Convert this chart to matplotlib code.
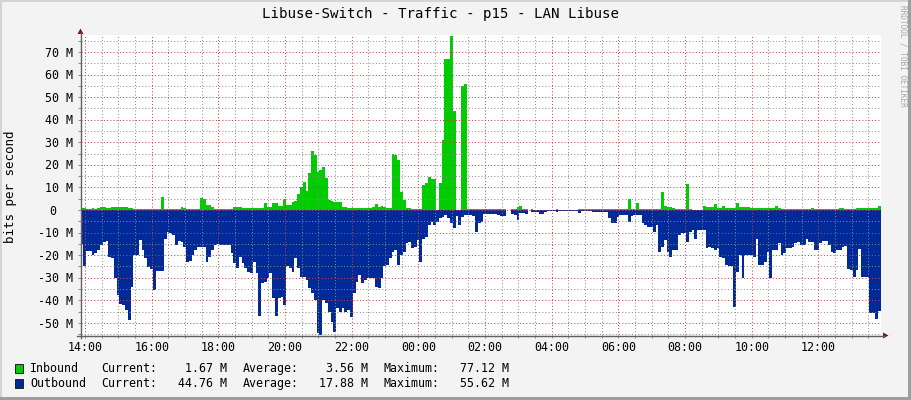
import numpy as np
import matplotlib
matplotlib.use("Agg")
import matplotlib.pyplot as plt
from matplotlib.patches import Rectangle, Polygon
from matplotlib.lines import Line2D
import matplotlib.transforms as mtransforms

# ---------------- data ----------------
title = "Libuse-Switch - Traffic - p15 - LAN Libuse"
ylabel = "bits per second"
watermark = "RRDTOOL / TOBI OETIKER"
hour_labels = ["14:00", "16:00", "18:00", "20:00", "22:00", "00:00",
               "02:00", "04:00", "06:00", "08:00", "10:00", "12:00"]
hour_offsets_min = [0, 120, 240, 360, 480, 600, 720, 840, 960, 1080, 1200, 1320]
start_min = -8      # first sample, minutes relative to 14:00
step_min = 5        # RRD step (5 minutes)
y_major = [-50, -40, -30, -20, -10, 0, 10, 20, 30, 40, 50, 60, 70]

# Inbound, Mbit/s, one value per 5-minute step
inbound = [
    0.7, 0.7, 0.6, 0.6, 0.7, 0.6, 0.7, 1.5, 1.4, 0.7,
    0.8, 1.2, 1.2, 1.3, 1.3, 1.2, 1.2, 0.8, 0.7, 0.6,
    0.5, 0.4, 0.4, 0.5, 0.4, 0.3, 0.4, 0.4, 0.5, 5.9,
    0.5, 0.5, 0.5, 0.5, 0.5, 0.5, 1.5, 0.8, 0.5, 0.5,
    0.5, 0.5, 0.5, 5.2, 5.0, 2.2, 2.0, 1.5, 0.4, 0.4,
    0.4, 0.4, 0.4, 0.4, 0.4, 1.3, 1.3, 1.3, 0.9, 0.9,
    0.9, 0.9, 0.9, 0.9, 1.0, 0.9, 3.2, 1.5, 1.5, 3.2,
    3.0, 1.8, 1.8, 4.7, 2.2, 2.2, 3.7, 4.0, 7.0, 10.3,
    12.3, 8.6, 16.2, 26.0, 24.4, 17.0, 17.7, 19.2, 14.0, 4.4,
    4.1, 3.7, 3.7, 3.4, 1.5, 1.5, 0.7, 0.7, 0.7, 0.7,
    0.7, 0.7, 0.7, 0.7, 0.7, 1.5, 2.7, 1.5, 1.9, 1.5,
    0.7, 0.7, 24.8, 24.4, 22.0, 8.1, 4.4, 0.7, 0.7, 0.3,
    0.3, 0.3, 0.3, 11.0, 12.0, 14.8, 13.6, 13.6, 0.0, 12.0,
    31.0, 67.0, 67.0, 77.12, 44.0, 0.0, 0.0, 55.0, 55.6, 0.3,
    0.3, 0.3, 0.3, 0.3, 0.3, 0.3, 0.3, 0.3, 0.3, 0.3,
    0.3, 0.3, 0.3, 0.0, 0.0, 0.3, 0.5, 1.5, 1.9, 0.3,
    0.3, 0.0, 0.2, 0.15, 0.15, 0.15, 0.15, 0.15, 0.15, 0.15,
    0.15, 0.3, 0.15, 0.15, 0.15, 0.15, 0.15, 0.15, 0.15, 0.2,
    0.2, 0.2, 0.2, 0.2, 0.2, 0.2, 0.2, 0.2, 0.2, 0.2,
    0.3, 0.3, 0.3, 0.3, 0.3, 0.3, 0.3, 4.9, 0.4, 0.4,
    3.2, 0.4, 0.3, 0.3, 0.3, 0.3, 0.3, 0.3, 0.6, 7.8,
    1.8, 1.2, 1.2, 0.7, 0.5, 0.5, 0.3, 0.3, 11.5, 0.4,
    0.1, 0.1, 0.1, 0.1, 1.8, 1.2, 1.2, 1.2, 2.5, 0.7,
    0.7, 1.8, 0.7, 0.7, 0.7, 0.7, 3.2, 1.5, 1.5, 1.5,
    1.5, 0.7, 0.7, 0.7, 0.7, 0.7, 0.7, 1.0, 0.7, 0.7,
    1.9, 0.7, 0.5, 0.5, 0.5, 0.5, 0.5, 0.5, 0.5, 0.5,
    0.5, 0.5, 0.5, 0.9, 0.4, 0.4, 0.4, 0.4, 0.4, 0.4,
    0.4, 0.4, 0.5, 0.9, 0.7, 0.4, 0.4, 0.4, 0.4, 0.7,
    0.7, 0.7, 0.7, 0.7, 0.7, 0.7, 0.7, 1.67,
]

# Outbound, Mbit/s (drawn below zero), one value per 5-minute step
outbound = [
    15.0, 25.0, 18.0, 18.0, 20.0, 19.0, 17.7, 15.5, 14.0, 13.6,
    20.7, 21.4, 30.0, 37.7, 41.7, 42.0, 44.3, 48.7, 34.0, 20.0,
    20.0, 13.3, 17.7, 21.4, 25.4, 26.0, 35.5, 27.0, 27.0, 27.0,
    13.0, 9.6, 10.0, 11.0, 15.5, 13.6, 14.0, 16.2, 22.9, 22.5,
    20.0, 17.7, 16.2, 16.2, 16.2, 22.9, 20.7, 17.7, 15.5, 15.0,
    15.5, 15.5, 15.5, 15.5, 19.0, 23.6, 25.8, 20.7, 23.6, 25.8,
    27.3, 28.0, 23.0, 28.0, 47.0, 32.5, 31.8, 30.3, 28.0, 39.0,
    47.0, 39.0, 38.4, 42.0, 25.0, 25.8, 27.3, 21.4, 25.8, 29.5,
    29.5, 31.0, 34.7, 37.0, 39.9, 54.7, 55.62, 40.0, 41.4, 45.0,
    49.5, 54.0, 43.6, 45.0, 43.6, 45.0, 44.3, 47.3, 37.0, 31.8,
    28.8, 32.5, 31.0, 30.3, 30.3, 30.3, 34.0, 34.7, 30.3, 25.0,
    24.4, 21.4, 18.5, 17.7, 24.4, 20.0, 18.5, 14.8, 14.0, 17.0,
    16.2, 13.3, 22.9, 12.9, 11.8, 6.6, 5.2, 6.6, 5.2, 3.7,
    3.2, 2.2, 3.7, 5.9, 8.1, 2.7, 6.6, 3.0, 2.2, 2.2,
    2.2, 2.7, 9.6, 5.9, 5.2, 1.8, 1.8, 1.8, 1.8, 1.8,
    2.2, 2.7, 2.7, 0.0, 0.0, 1.8, 2.2, 4.4, 1.2, 1.2,
    1.8, 0.0, 0.8, 0.7, 0.7, 1.8, 1.8, 0.7, 0.4, 0.4,
    0.4, 0.9, 0.4, 0.4, 0.4, 0.4, 0.4, 0.4, 0.4, 1.5,
    0.4, 0.4, 0.4, 0.4, 0.9, 0.9, 0.9, 0.9, 0.9, 0.9,
    3.7, 5.9, 5.9, 3.0, 2.2, 2.2, 2.2, 5.2, 2.7, 2.2,
    2.2, 2.2, 5.9, 6.6, 7.4, 7.7, 9.6, 6.6, 18.5, 16.2,
    13.3, 18.5, 20.7, 17.7, 17.7, 11.0, 10.3, 10.3, 14.0, 9.6,
    8.9, 13.0, 9.0, 8.9, 8.9, 17.0, 16.2, 17.0, 17.7, 17.0,
    20.7, 21.4, 24.4, 24.8, 24.8, 42.8, 27.3, 20.0, 30.3, 20.0,
    20.0, 20.0, 20.7, 12.9, 24.4, 24.4, 22.9, 18.5, 30.3, 17.7,
    17.7, 14.8, 20.0, 19.2, 17.0, 17.0, 16.5, 14.8, 14.0, 15.5,
    15.5, 13.0, 14.0, 14.0, 17.7, 17.7, 14.8, 13.7, 13.7, 15.5,
    18.5, 19.2, 17.7, 17.7, 16.2, 16.0, 26.3, 26.6, 29.5, 26.6,
    17.4, 29.5, 29.5, 29.5, 45.8, 45.8, 48.3, 44.76,
]

legend_names = ["Inbound", "Outbound"]
legend_current = ["1.67 M", "44.76 M"]
legend_average = ["3.56 M", "17.88 M"]
legend_maximum = ["77.12 M", "55.62 M"]

# ---------------- style ----------------
GREEN = "#00CC00"
BLUE = "#002A97"
BG = "#F3F3F3"
MONO = "DejaVu Sans Mono"

W, H = 911, 400
fig = plt.figure(figsize=(W / 100, H / 100), dpi=100, facecolor=BG)
pix = mtransforms.Affine2D().scale(1 / W, -1 / H).translate(0, 1) + fig.transFigure

ax = fig.add_axes([81 / W, 1 - 335 / H, 800 / W, 300 / H])
ax.set_facecolor("white")
for s in ax.spines.values():
    s.set_visible(False)

edges = start_min + step_min * np.arange(len(inbound) + 1)
ax.stairs(inbound, edges, fill=True, color=GREEN, baseline=0, zorder=1)
ax.stairs(-np.asarray(outbound), edges, fill=True, color=BLUE, baseline=0, zorder=1)

ax.set_xlim(-7.2, 1432.8)
ax.set_ylim(-55.4, 77.5)

# grid
ax.set_xticks(hour_offsets_min)
ax.set_xticks([m for m in range(0, 1440, 30) if m % 120 != 0], minor=True)
ax.set_yticks(y_major)
ax.set_yticks([v for v in range(-55, 80, 5) if v % 10 != 0], minor=True)
ax.set_axisbelow(False)
ax.grid(which="minor", color=(0.55, 0.55, 0.55, 0.32), linestyle=(0, (1, 2.2)), linewidth=0.72)
ax.grid(which="major", color=(0.87, 0.22, 0.22, 0.36), linestyle=(0, (1, 2.2)), linewidth=0.72)
ax.tick_params(which="both", length=2, width=0.7, color="#888888", direction="out",
               labelbottom=False, labelleft=False)

# axis lines with arrows
fig.add_artist(Line2D([80.5, 80.5], [338, 33], transform=pix, color="#606060", lw=1))
fig.add_artist(Line2D([77, 884], [335.5, 335.5], transform=pix, color="#606060", lw=1))
fig.add_artist(Polygon([[80.5, 28.5], [77.5, 34], [83.5, 34]], closed=True,
                       transform=pix, color="#801515", lw=0))
fig.add_artist(Polygon([[888.5, 335.5], [883, 332.5], [883, 338.5]], closed=True,
                       transform=pix, color="#801515", lw=0))

# tick labels
xlab_tr = mtransforms.blended_transform_factory(ax.transData, pix)
for m, lab in zip(hour_offsets_min, hour_labels):
    ax.text(m, 347.3, lab, transform=xlab_tr, ha="center", va="center",
            family=MONO, fontsize=8.4, color="black", clip_on=False)
ylab_tr = mtransforms.blended_transform_factory(pix, ax.transData) + \
    mtransforms.ScaledTranslation(0, -1.2 / 100, fig.dpi_scale_trans)
for v in y_major:
    if v == 0:
        ax.text(56.5, v, "0", transform=ylab_tr, ha="right", va="center",
                family=MONO, fontsize=8.4, clip_on=False)
    else:
        ax.text(73, v, f"{v} M", transform=ylab_tr, ha="right", va="center",
                family=MONO, fontsize=8.4, clip_on=False)

# title, axis label, watermark
fig.text(440 / W, 1 - 14 / H, title, ha="center", va="center", family=MONO, fontsize=10.2)
fig.text(11 / W, 1 - 187 / H, ylabel, ha="center", va="center", rotation=90,
         family=MONO, fontsize=9.0)
fig.text(903 / W, 1 - 56 / H, watermark, ha="center", va="center", rotation=-90,
         family=MONO, fontsize=5.6, color="#A8A8A8")

# legend
row_y = [368.3, 383.3]
colors = [GREEN, BLUE]
for i in range(2):
    y = row_y[i]
    fig.add_artist(Rectangle((15, y - 4.8), 8, 9, transform=pix, facecolor=colors[i],
                             edgecolor="#202020", lw=0.7))
    kw = dict(transform=pix, va="center", family=MONO, fontsize=8.4)
    fig.text(30, y, legend_names[i], ha="left", **kw)
    fig.text(101.7, y, "Current:", ha="left", **kw)
    fig.text(227, y, legend_current[i], ha="right", **kw)
    fig.text(243, y, "Average:", ha="left", **kw)
    fig.text(368, y, legend_average[i], ha="right", **kw)
    fig.text(383.5, y, "Maximum:", ha="left", **kw)
    fig.text(509, y, legend_maximum[i], ha="right", **kw)

# image frame (rrdtool shade)
fig.add_artist(Rectangle((0, 0), W, 2, transform=pix, color="#D4D4D4", lw=0))
fig.add_artist(Rectangle((0, 0), 2, H, transform=pix, color="#D4D4D4", lw=0))
fig.add_artist(Rectangle((0, H - 3), W, 3, transform=pix, color="#9E9E9E", lw=0))
fig.add_artist(Rectangle((W - 3, 0), 3, H, transform=pix, color="#9E9E9E", lw=0))

fig.savefig("out.png", dpi=100, facecolor=BG)
